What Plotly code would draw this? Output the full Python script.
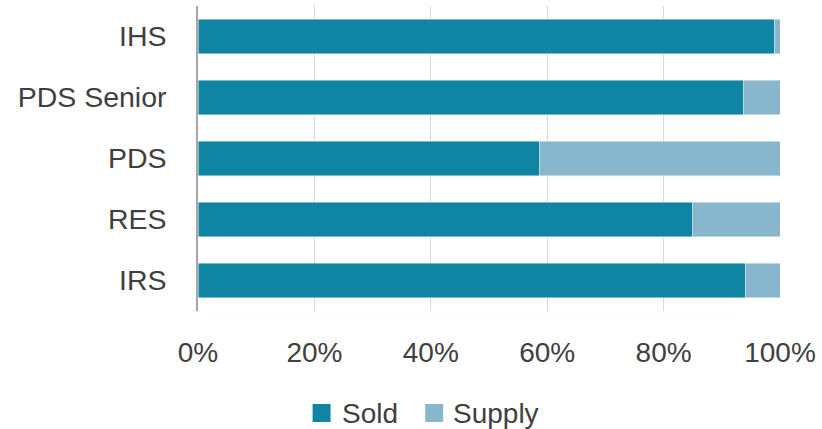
import plotly.graph_objects as go

# Share of each programme's units: sold vs remaining supply (percent)
categories = ["IHS", "PDS Senior", "PDS", "RES", "IRS"]
sold = [99.0, 93.7, 58.7, 85.0, 94.0]
supply = [1.0, 6.3, 41.3, 15.0, 6.0]
series_names = ["Sold", "Supply"]
series_colors = ["#0F85A3", "#88B6CC"]
x_ticks = [0, 20, 40, 60, 80, 100]
x_tick_labels = ["0%", "20%", "40%", "60%", "80%", "100%"]

W, H = 822, 429
M_L, M_R, M_T, M_B = 198, 40, 6, 118
FONT = "Liberation Sans, Arial, sans-serif"
TEXT = "#404040"

fig = go.Figure()
for name, vals, col in zip(series_names, [sold, supply], series_colors):
    fig.add_trace(go.Bar(
        y=categories, x=vals, name=name, orientation="h",
        marker=dict(color=col, line=dict(color="rgba(255,255,255,0.6)", width=0.75)),
        showlegend=False,
    ))

# Legend drawn as square swatches with labels beneath the plot
plot_w = W - M_L - M_R
plot_h = H - M_T - M_B
def px_x(px):
    return (px - M_L) / plot_w
def px_y(py):
    return (H - M_B - py) / plot_h

legend_items = [(313, 340), (426, 452)]
for (sx, tx), name, col in zip(legend_items, series_names, series_colors):
    fig.add_shape(type="rect", xref="paper", yref="paper",
                  x0=px_x(sx), x1=px_x(sx + 18), y0=px_y(422), y1=px_y(404),
                  fillcolor=col, line=dict(width=0))
    fig.add_annotation(text=name, xref="paper", yref="paper",
                       x=px_x(tx), y=px_y(413), xanchor="left", yanchor="middle",
                       showarrow=False, font=dict(family=FONT, size=28, color=TEXT))

fig.update_layout(
    barmode="stack",
    bargap=0.44,
    width=W, height=H,
    margin=dict(l=M_L, r=M_R, t=M_T, b=M_B, pad=0),
    paper_bgcolor="white", plot_bgcolor="white",
    font=dict(family=FONT, size=28, color=TEXT),
    xaxis=dict(
        range=[0, 100], tickmode="array", tickvals=x_ticks, ticktext=x_tick_labels,
        showgrid=True, gridcolor="#D9D9D9", gridwidth=1,
        zeroline=False, showline=False, ticks="",
        ticklabelstandoff=22,
        tickfont=dict(family=FONT, size=28, color=TEXT),
        fixedrange=True,
    ),
    yaxis=dict(
        categoryorder="array", categoryarray=categories, autorange="reversed",
        showgrid=False, zeroline=False,
        showline=True, linecolor="#A6A6A6", linewidth=1.5,
        ticks="", ticklabelstandoff=24,
        tickfont=dict(family=FONT, size=28.5, color=TEXT),
        fixedrange=True,
    ),
)

fig.write_html("out.html")
